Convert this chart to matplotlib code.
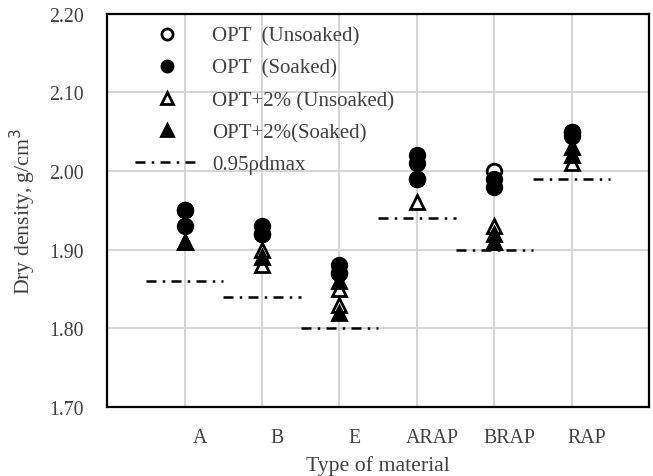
import numpy as np
import matplotlib
matplotlib.use('Agg')
import matplotlib.pyplot as plt
from matplotlib.lines import Line2D

plt.rcParams['font.family'] = ['Liberation Serif', 'DejaVu Serif']

materials = ['A', 'B', 'E', 'ARAP', 'BRAP', 'RAP']

# dry density readings per material (g/cm3), one list per material
opt_unsoaked = [[1.95], [1.92], [1.87], [1.99], [2.00], [2.05]]
opt_soaked = [[1.95, 1.93], [1.93, 1.92], [1.88, 1.87], [2.02, 2.01, 1.99], [1.99, 1.98], [2.05, 2.045]]
opt2_unsoaked = [[1.91], [1.90, 1.88], [1.85, 1.83], [1.96], [1.93, 1.91], [2.01]]
opt2_soaked = [[1.91], [1.89], [1.86, 1.82], [], [1.92, 1.91], [2.03, 2.02]]

# 95% of maximum dry density for each material
rho_095 = [1.86, 1.84, 1.80, 1.94, 1.90, 1.99]

text_col = '#404040'

fig = plt.figure(figsize=(6.53, 4.77), dpi=100)
ax = fig.add_axes([0.164, 0.145, 0.830, 0.824])

ms = 10.5


def scatter_series(values, marker, face):
    xs, ys = [], []
    for i, vals in enumerate(values):
        for v in vals:
            xs.append(i + 1)
            ys.append(v)
    ax.plot(xs, ys, linestyle='none', marker=marker, markersize=ms,
            markerfacecolor=face, markeredgecolor='black', markeredgewidth=2,
            zorder=3)


scatter_series(opt_unsoaked, 'o', 'white')
scatter_series(opt_soaked, 'o', 'black')
scatter_series(opt2_unsoaked, '^', 'white')
scatter_series(opt2_soaked, '^', 'black')

dash = (0, (4, 2.5, 1, 2.5))
for i, r in enumerate(rho_095):
    ax.plot([i + 0.5, i + 1.5], [r, r], color='black', lw=1.8,
            linestyle=dash, zorder=2)

ax.set_xlim(0, 7)
ax.set_ylim(1.70, 2.20)
ax.set_xticks(range(1, 7))
ax.set_xticklabels([])
ax.set_yticks(np.arange(1.70, 2.201, 0.10))
ax.set_yticklabels(['%.2f' % v for v in np.arange(1.70, 2.201, 0.10)])
ax.tick_params(axis='both', length=0, labelsize=14.3, labelcolor=text_col)
ax.tick_params(axis='y', pad=17)
ax.grid(True, color='#d4d4d4', lw=1.4, zorder=0)
ax.set_axisbelow(True)
for s in ax.spines.values():
    s.set_linewidth(1.6)
    s.set_color('black')

# category names sit slightly right of each gridline
for i, name in enumerate(materials):
    ax.text(i + 1.2, -0.078, name, transform=ax.get_xaxis_transform(),
            ha='center', va='center', fontsize=14.3, color=text_col)

ax.text(0.5, -0.148, 'Type of material', transform=ax.transAxes,
        ha='center', va='center', fontsize=15.7, color=text_col)
ax.set_ylabel('Dry density, g/cm$^3$', fontsize=15.7, color=text_col, labelpad=8)

handles = [
    Line2D([], [], ls='none', marker='o', ms=8, mfc='white', mec='black', mew=2),
    Line2D([], [], ls='none', marker='o', ms=8, mfc='black', mec='black', mew=2),
    Line2D([], [], ls='none', marker='^', ms=8, mfc='white', mec='black', mew=2),
    Line2D([], [], ls='none', marker='^', ms=8, mfc='black', mec='black', mew=2),
    Line2D([], [], color='black', lw=1.8, linestyle=dash),
]
labels = ['OPT  (Unsoaked)', 'OPT  (Soaked)', 'OPT+2% (Unsoaked)',
          'OPT+2%(Soaked)', '0.95\u03c1dmax']
leg = ax.legend(handles, labels, loc='upper left', bbox_to_anchor=(0.028, 1.0),
                frameon=False, fontsize=15, handlelength=3.1,
                handletextpad=0.62, labelspacing=0.6, borderaxespad=0.2)
for t in leg.get_texts():
    t.set_color(text_col)

fig.savefig('out.png', dpi=100)
